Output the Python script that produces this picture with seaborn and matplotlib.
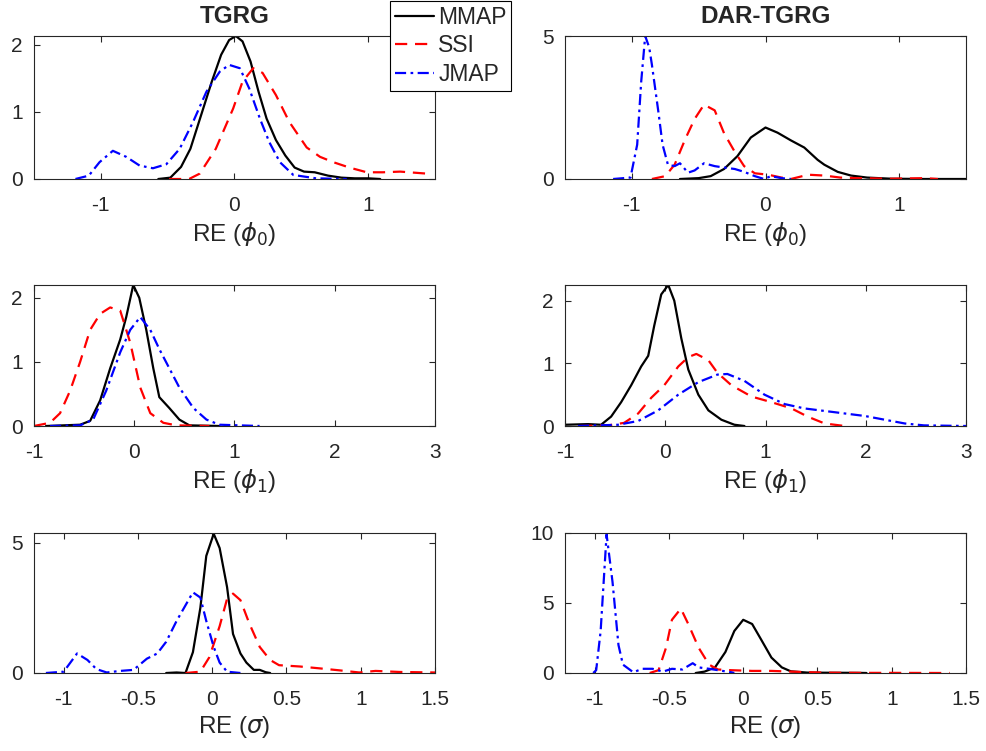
import numpy as np
import pandas as pd
import matplotlib
matplotlib.use("Agg")
import matplotlib.pyplot as plt
import seaborn as sns

# ---------------- data ----------------
SERIES = ["MMAP", "SSI", "JMAP"]
TITLES = ["TGRG", "DAR-TGRG"]
XLABELS = [r"RE ($\phi_0$)", r"RE ($\phi_1$)", r"RE ($\sigma$)"]

# TGRG, phi0
t0_mmap_x = [-0.57, -0.48, -0.40, -0.33, -0.25, -0.17, -0.10, -0.04, 0.01, 0.06, 0.12, 0.18, 0.24, 0.31, 0.38, 0.45, 0.52, 0.60, 0.70, 0.80, 0.90, 1.00, 1.09]
t0_mmap_y = [0.0, 0.02, 0.18, 0.45, 0.95, 1.45, 1.85, 2.07, 2.13, 2.05, 1.75, 1.30, 0.90, 0.58, 0.35, 0.17, 0.11, 0.10, 0.05, 0.02, 0.01, 0.01, 0.0]
t0_ssi_x = [-0.49, -0.34, -0.26, -0.14, -0.01, 0.06, 0.14, 0.21, 0.31, 0.41, 0.54, 0.64, 0.74, 0.86, 0.99, 1.11, 1.24, 1.44]
t0_ssi_y = [0.0, 0.0, 0.08, 0.45, 1.05, 1.45, 1.65, 1.58, 1.25, 0.85, 0.47, 0.33, 0.25, 0.17, 0.10, 0.10, 0.11, 0.08]
t0_jmap_x = [-1.19, -1.09, -1.01, -0.91, -0.81, -0.71, -0.61, -0.51, -0.41, -0.31, -0.21, -0.11, -0.04, 0.04, 0.11, 0.19, 0.26, 0.34, 0.44, 0.61, 0.84]
t0_jmap_y = [0.0, 0.05, 0.25, 0.42, 0.33, 0.20, 0.16, 0.22, 0.45, 0.85, 1.30, 1.60, 1.70, 1.65, 1.35, 0.90, 0.55, 0.25, 0.06, 0.01, 0.0]

# DAR-TGRG, phi0
d0_mmap_x = [-0.64, -0.50, -0.41, -0.31, -0.21, -0.11, 0.0, 0.09, 0.19, 0.29, 0.39, 0.44, 0.54, 0.64, 0.76, 0.94, 1.19, 1.50]
d0_mmap_y = [0.0, 0.03, 0.10, 0.35, 0.80, 1.45, 1.80, 1.62, 1.35, 1.10, 0.67, 0.50, 0.25, 0.12, 0.05, 0.01, 0.0, 0.0]
d0_ssi_x = [-0.85, -0.75, -0.68, -0.60, -0.53, -0.46, -0.38, -0.31, -0.23, -0.16, -0.08, 0.02, 0.12, 0.19, 0.32, 0.44, 0.56, 0.69, 0.94, 1.19, 1.29]
d0_ssi_y = [0.0, 0.10, 0.50, 1.40, 2.10, 2.60, 2.40, 1.60, 0.95, 0.45, 0.20, 0.15, 0.05, 0.0, 0.15, 0.12, 0.05, 0.03, 0.01, 0.03, 0.0]
d0_jmap_x = [-1.14, -1.01, -0.96, -0.93, -0.90, -0.87, -0.85, -0.80, -0.77, -0.73, -0.68, -0.64, -0.58, -0.53, -0.46, -0.38, -0.31, -0.23, -0.16, -0.08, -0.01, 0.04, 0.12, 0.19]
d0_jmap_y = [0.0, 0.05, 1.20, 3.40, 5.00, 4.60, 4.00, 2.30, 1.20, 0.50, 0.45, 0.55, 0.22, 0.30, 0.55, 0.45, 0.40, 0.35, 0.25, 0.10, 0.0, 0.10, 0.03, 0.0]

# TGRG, phi1
t1_mmap_x = [-0.88, -0.54, -0.44, -0.34, -0.24, -0.14, -0.08, -0.01, 0.05, 0.12, 0.19, 0.25, 0.35, 0.45, 0.55, 0.85]
t1_mmap_y = [0.0, 0.02, 0.08, 0.40, 0.90, 1.35, 1.70, 2.20, 2.00, 1.50, 0.90, 0.45, 0.28, 0.10, 0.01, 0.0]
t1_ssi_x = [-1.0, -0.84, -0.74, -0.64, -0.54, -0.44, -0.34, -0.24, -0.14, -0.04, 0.06, 0.16, 0.29, 0.42, 0.75]
t1_ssi_y = [0.0, 0.05, 0.20, 0.55, 1.00, 1.50, 1.75, 1.85, 1.80, 1.30, 0.60, 0.20, 0.05, 0.01, 0.0]
t1_jmap_x = [-0.84, -0.54, -0.41, -0.28, -0.14, -0.04, 0.06, 0.16, 0.25, 0.35, 0.45, 0.59, 0.72, 0.85, 1.25]
t1_jmap_y = [0.0, 0.01, 0.10, 0.55, 1.15, 1.50, 1.70, 1.50, 1.20, 0.90, 0.60, 0.28, 0.10, 0.02, 0.0]

# DAR-TGRG, phi1
d1_mmap_x = [-1.0, -0.77, -0.64, -0.54, -0.44, -0.34, -0.24, -0.17, -0.11, -0.04, 0.03, 0.09, 0.16, 0.23, 0.33, 0.43, 0.56, 0.69, 0.79]
d1_mmap_y = [0.02, 0.03, 0.02, 0.15, 0.38, 0.65, 0.95, 1.12, 1.60, 2.10, 2.25, 2.00, 1.40, 0.90, 0.50, 0.25, 0.10, 0.02, 0.0]
d1_ssi_x = [-0.85, -0.57, -0.41, -0.27, -0.14, -0.01, 0.13, 0.23, 0.31, 0.43, 0.52, 0.66, 0.86, 1.06, 1.26, 1.42, 1.59, 1.79]
d1_ssi_y = [0.0, 0.01, 0.05, 0.20, 0.45, 0.65, 0.95, 1.10, 1.15, 1.05, 0.85, 0.65, 0.47, 0.38, 0.28, 0.15, 0.04, 0.0]
d1_jmap_x = [-0.87, -0.47, -0.27, -0.07, 0.13, 0.33, 0.52, 0.62, 0.79, 0.99, 1.19, 1.39, 1.59, 1.79, 1.99, 2.19, 2.39, 2.58, 3.0]
d1_jmap_y = [0.0, 0.02, 0.08, 0.25, 0.50, 0.70, 0.82, 0.83, 0.72, 0.50, 0.35, 0.28, 0.24, 0.20, 0.16, 0.10, 0.04, 0.01, 0.0]

# TGRG, sigma
ts_mmap_x = [-0.31, -0.24, -0.18, -0.13, -0.08, -0.04, 0.01, 0.05, 0.10, 0.14, 0.19, 0.23, 0.28, 0.32, 0.36, 0.39]
ts_mmap_y = [0.0, 0.02, 0.0, 0.80, 2.50, 4.50, 5.35, 4.80, 3.30, 1.50, 0.75, 0.40, 0.12, 0.12, 0.03, 0.0]
ts_ssi_x = [-0.18, -0.08, -0.02, 0.05, 0.10, 0.14, 0.19, 0.25, 0.32, 0.39, 0.45, 0.59, 0.72, 0.86, 0.99, 1.10, 1.26, 1.50]
ts_ssi_y = [0.0, 0.05, 0.60, 1.80, 2.85, 3.05, 2.80, 1.90, 1.00, 0.50, 0.30, 0.25, 0.18, 0.10, 0.02, 0.08, 0.04, 0.02]
ts_jmap_x = [-1.12, -1.0, -0.91, -0.84, -0.78, -0.71, -0.62, -0.53, -0.44, -0.37, -0.31, -0.24, -0.17, -0.13, -0.08, -0.04, 0.01, 0.05, 0.10, 0.19]
ts_jmap_y = [0.0, 0.05, 0.75, 0.50, 0.15, 0.02, 0.08, 0.12, 0.55, 0.75, 1.20, 2.00, 2.70, 3.10, 2.90, 2.00, 1.00, 0.40, 0.05, 0.0]

# DAR-TGRG, sigma
ds_mmap_x = [-0.32, -0.26, -0.19, -0.12, -0.06, 0.0, 0.06, 0.12, 0.19, 0.26, 0.32, 0.43, 0.54, 0.77, 0.83]
ds_mmap_y = [0.0, 0.10, 0.40, 1.50, 3.00, 3.80, 3.50, 2.40, 1.10, 0.40, 0.12, 0.03, 0.02, 0.01, 0.0]
ds_ssi_x = [-0.63, -0.57, -0.52, -0.48, -0.42, -0.37, -0.30, -0.23, -0.17, -0.08, 0.06, 0.19, 0.32, 0.46, 0.59, 0.77, 0.99, 1.39]
ds_ssi_y = [0.0, 0.20, 1.80, 3.80, 4.60, 3.50, 1.80, 0.60, 0.25, 0.20, 0.15, 0.15, 0.10, 0.05, 0.02, 0.01, 0.01, 0.0]
ds_jmap_x = [-1.01, -0.99, -0.96, -0.92, -0.88, -0.84, -0.81, -0.74, -0.68, -0.61, -0.54, -0.48, -0.41, -0.34, -0.30, -0.23, -0.17, -0.08, -0.06]
ds_jmap_y = [0.0, 0.20, 3.00, 9.90, 6.50, 2.00, 0.60, 0.05, 0.30, 0.30, 0.10, 0.30, 0.25, 0.70, 0.40, 0.30, 0.20, 0.05, 0.0]

PANELS = [
    [(t0_mmap_x, t0_mmap_y), (t0_ssi_x, t0_ssi_y), (t0_jmap_x, t0_jmap_y)],
    [(d0_mmap_x, d0_mmap_y), (d0_ssi_x, d0_ssi_y), (d0_jmap_x, d0_jmap_y)],
    [(t1_mmap_x, t1_mmap_y), (t1_ssi_x, t1_ssi_y), (t1_jmap_x, t1_jmap_y)],
    [(d1_mmap_x, d1_mmap_y), (d1_ssi_x, d1_ssi_y), (d1_jmap_x, d1_jmap_y)],
    [(ts_mmap_x, ts_mmap_y), (ts_ssi_x, ts_ssi_y), (ts_jmap_x, ts_jmap_y)],
    [(ds_mmap_x, ds_mmap_y), (ds_ssi_x, ds_ssi_y), (ds_jmap_x, ds_jmap_y)],
]

XLIMS = [(-1.5, 1.5), (-1.5, 1.5), (-1, 3), (-1, 3), (-1.2, 1.5), (-1.2, 1.5)]
YLIMS = [(0, 2.13), (0, 5), (0, 2.2), (0, 2.25), (0, 5.38), (0, 10)]
XTICKS = [[-1, 0, 1], [-1, 0, 1], [-1, 0, 1, 2, 3], [-1, 0, 1, 2, 3],
          [-1, -0.5, 0, 0.5, 1, 1.5], [-1, -0.5, 0, 0.5, 1, 1.5]]
XTICKLABELS = [["-1", "0", "1"], ["-1", "0", "1"], ["-1", "0", "1", "2", "3"], ["-1", "0", "1", "2", "3"],
               ["-1", "-0.5", "0", "0.5", "1", "1.5"], ["-1", "-0.5", "0", "0.5", "1", "1.5"]]
YTICKS = [[0, 1, 2], [0, 5], [0, 1, 2], [0, 1, 2], [0, 5], [0, 5, 10]]

# ---------------- styling ----------------
sns.set_theme(style="ticks")
plt.rcParams["font.family"] = ["Liberation Sans", "DejaVu Sans"]
plt.rcParams["mathtext.fontset"] = "dejavusans"

COLORS = {"MMAP": "black", "SSI": "#ff0000", "JMAP": "#0000ff"}
STYLES = {"MMAP": "-", "SSI": (0, (5.5, 3.5)), "JMAP": (0, (5, 2, 1.2, 2))}
AXCOL = "#262626"

fig = plt.figure(figsize=(9.87, 7.51), dpi=100)
W, H = 987.0, 751.0
lefts = [34 / W, 565 / W]
width = 401 / W
rows = [(36, 179), (285, 426), (533, 673)]

axes = []
for i in range(6):
    r, c = divmod(i, 2)
    top, bot = rows[r]
    ax = fig.add_axes([lefts[c], 1 - bot / H, width, (bot - top) / H])
    axes.append(ax)
    for name, (xs, ys) in zip(SERIES, PANELS[i]):
        df = pd.DataFrame({"x": xs, "y": ys})
        sns.lineplot(data=df, x="x", y="y", ax=ax, color=COLORS[name],
                     linestyle=STYLES[name], linewidth=1.6, label=name,
                     sort=False, estimator=None, legend=False)
    ax.set_xlim(*XLIMS[i])
    ax.set_ylim(*YLIMS[i])
    ax.set_xticks(XTICKS[i])
    ax.set_xticklabels(XTICKLABELS[i])
    ax.set_yticks(YTICKS[i])
    ax.tick_params(direction="in", top=True, right=True, length=4, width=0.8,
                   labelsize=15, colors=AXCOL)
    ax.tick_params(axis="x", pad=12)
    ax.tick_params(axis="y", pad=8)
    for s in ax.spines.values():
        s.set_color(AXCOL)
        s.set_linewidth(0.8)
    ax.set_xlabel(XLABELS[r], fontsize=17.5, color=AXCOL, labelpad=4)
    ax.set_ylabel("")
    if r == 0:
        ax.set_title(TITLES[c], fontsize=17.5, fontweight="bold", y=1.09, pad=0)

handles = axes[0].get_lines()[:3]
leg = fig.legend(handles, SERIES, loc="upper left",
                 bbox_to_anchor=(390 / W, 1 - 1 / H), fontsize=16.5,
                 frameon=True, fancybox=False, framealpha=1, edgecolor="black",
                 handlelength=1.7, handletextpad=0.2, borderpad=0.2,
                 labelspacing=0.25, borderaxespad=0)
leg.get_frame().set_linewidth(0.8)

fig.savefig("out.png", dpi=100)
